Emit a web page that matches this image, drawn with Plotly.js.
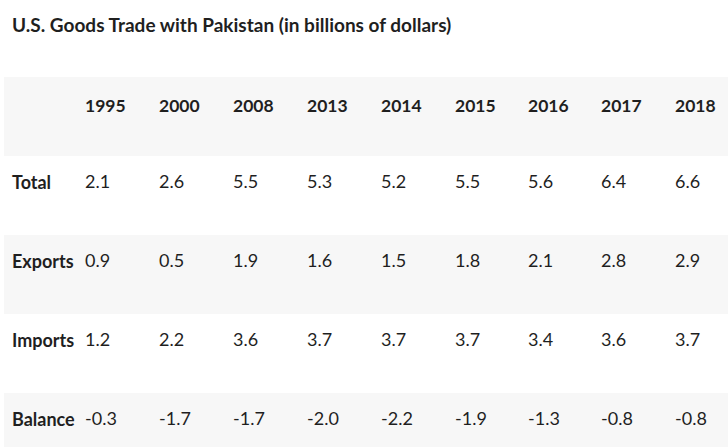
<!DOCTYPE html>
<html>
<head>
<meta charset="utf-8">
<script src="https://cdn.plot.ly/plotly-3.0.1.min.js"></script>
<style>
html,body{margin:0;padding:0;overflow:hidden;background:#fff;}
#chart{width:728px;height:472px;}
</style>
</head>
<body>
<div id="chart"></div>
<script>
var years = ['1995','2000','2008','2013','2014','2015','2016','2017','2018'];
var rowLabels = ['Total','Exports','Imports','Balance'];
var total   = [2.1, 2.6, 5.5, 5.3, 5.2, 5.5, 5.6, 6.4, 6.6];
var exportsV = [0.9, 0.5, 1.9, 1.6, 1.5, 1.8, 2.1, 2.8, 2.9];
var importsV = [1.2, 2.2, 3.6, 3.7, 3.7, 3.7, 3.4, 3.6, 3.7];
var balance = [-0.3, -1.7, -1.7, -2.0, -2.2, -1.9, -1.3, -0.8, -0.8];

var series = [total, exportsV, importsV, balance];
var rowFill = ['#ffffff','#f7f7f7','#ffffff','#f7f7f7'];
var FONT = 'Lato, "Noto Sans", sans-serif';
var TOTAL_H = 472, TOP = 77, LEFT = 4, PLOT_W = 724;
var LABEL_SHIFT = 7, VALUE_SHIFT = 10;

var labelVals = rowLabels.map(function(r){return '<b>'+r+'</b>';});
var headerVals = years.map(function(y){return '<b>'+y+'</b>';});
var valueCols = years.map(function(y, i){
  return series.map(function(s){ return s[i].toFixed(1); });
});
function blanks(a){ return a.map(function(){ return ''; }); }

var labelW = 73;
var valueW = [74,74,74,74,74,73,73,74,61];
var colW = [labelW].concat(valueW);
var fills = colW.map(function(){ return rowFill.slice(); });
var noLine = {width: 0, color: 'rgba(0,0,0,0)'};
var clear = {color: 'rgba(0,0,0,0)'};
var font = {family: FONT, size: 18, color: '#1f1f1f'};
var H = TOTAL_H - TOP;
var xSplit = labelW / PLOT_W;

// background bands
var bandTable = {
  type: 'table',
  columnwidth: colW,
  header: {values: blanks(colW), align: 'left', height: 79, fill: {color: '#f7f7f7'}, line: noLine, font: font},
  cells: {values: colW.map(function(){ return blanks(rowLabels); }), align: 'left', height: 79,
          fill: {color: fills}, line: noLine, font: font},
  domain: {x: [0, 1], y: [0, 1]}
};
// row labels
var labelTable = {
  type: 'table',
  columnwidth: [labelW],
  header: {values: [''], align: 'left', height: 79, fill: clear, line: noLine, font: font},
  cells: {values: [labelVals], align: 'left', height: 79, fill: clear, line: noLine, font: font},
  domain: {x: [0, xSplit], y: [0, 1 - LABEL_SHIFT / H]}
};
// years and values
var valueTable = {
  type: 'table',
  columnwidth: valueW,
  header: {values: headerVals, align: 'left', height: 79, fill: clear, line: noLine,
           font: {family: FONT, size: 17.5, color: '#1f1f1f'}},
  cells: {values: valueCols, align: 'left', height: 79, fill: clear, line: noLine, font: font},
  domain: {x: [xSplit, 1], y: [0, 1 - VALUE_SHIFT / H]}
};

var layout = {
  width: 728,
  height: TOTAL_H,
  margin: {l: LEFT, r: 0, t: TOP, b: 0},
  paper_bgcolor: '#ffffff',
  title: {
    text: '<b>U.S. Goods Trade with Pakistan (in billions of dollars)</b>',
    font: {family: FONT, size: 19, color: '#1f1f1f'},
    x: 12/728, xanchor: 'left', xref: 'container',
    y: 1 - 25/TOTAL_H, yanchor: 'middle', yref: 'container'
  }
};

Plotly.newPlot('chart', [bandTable, labelTable, valueTable], layout, {displayModeBar: false, staticPlot: true});
</script>
</body>
</html>
